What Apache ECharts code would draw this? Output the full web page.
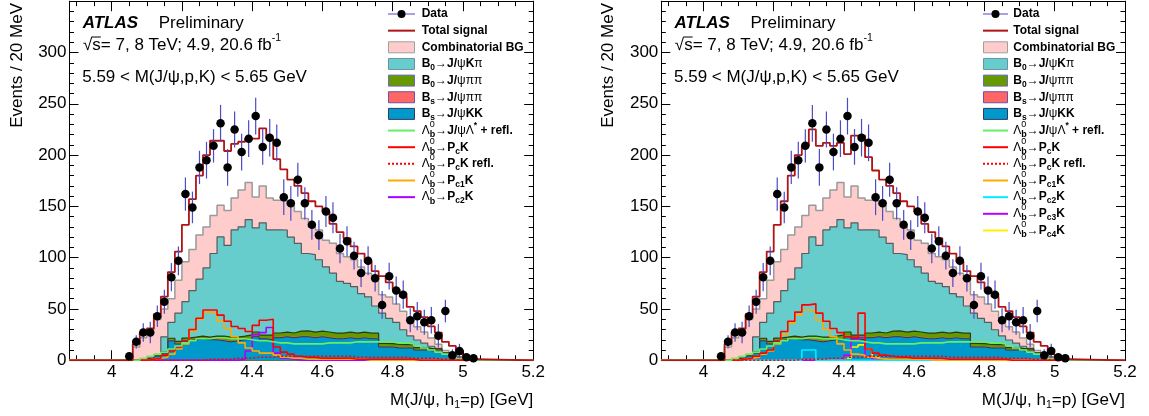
<!DOCTYPE html>
<html>
<head>
<meta charset="utf-8">
<title>M(J/ψ, p) fit projections</title>
<script src="https://cdn.jsdelivr.net/npm/echarts@6.0.0/dist/echarts.min.js"></script>
<style>
  html, body { margin: 0; padding: 0; background: #fff; }
  #chart { width: 1149px; height: 416px; }
</style>
</head>
<body>
<div id="chart"></div>
<script>
// ---- binning: 20 MeV bins starting at 4.04 GeV ----
const binLow = 4.04;
const binWidth = 0.02;

// ---- data ----
const dataCounts = [4,18,27,27,43,57,81,97,162,149, 188,195,209,231,188,225,203,216,238,208,
  217,212,159,153,176,153,132,122,145,139, 109,116,102,85,97,80,54,82,68,64,
  39,43,37,39,24,48,5,9,3,2];
const dataErrors = [3,6.5,9,10.5,10.5,11.7,13.8,14,16.2,15.4, 16.2,17.9,16.2,17.9,17.9,17.5,17.9,17.9,17.9,17.4,
  18.3,17.9,17.5,17,16.6,15.7,14.6,14.6,15.1,15.1, 14.3,14.6,13.5,13.5,14.1,13,13.5,13,13.6,13.8,
  11.7,13.8,12.2,13,11.4,10.9,5.7,7.1,3,2];

// ---- background components (stacked, bottom first) ----
const bsKK = [0,0,0,2,4,7,19,16,19,20, 21,20,20,19,18,19,20,20,23,21,
  20,22,23,22,23,23,22,23,22,21, 21,22,21,22,21,21,13,13,12,12,
  12,10,10,9,9,6,3,2,0,0];
const bsPiPi = [0,0,0,0,0.3,0.4,0.5,0.5,0.6,0.5, 0.6,0.5,0.6,0.7,0.5,0.6,0.6,0.7,0.6,0.5,
  0.6,0.6,0.5,0.6,0.5,0.6,0.5,0.5,0.6,0.5, 0.5,0.5,0.4,0.5,0.4,0.4,0.4,0.3,0.4,0.3,
  0.3,0.3,0.2,0.2,0.2,0.1,0.1,0,0,0];
const b0PiPi = [0,0,0,0,1,1,2,2,2,2, 2,2,3,4,4,3,3,4,4,3,
  4,4,4,4,5,5,5,5,5,5, 5,5,5,5,5,5,3,3,3,3,
  3,2,2,2,2,1,1,0,0,0];
const b0KPi = [0,0,0,0,0,14.5,15.5,27.5,35.5,45.5, 55.5,67.5,80.5,96.5,89.5,104.5,106.5,112.5,101.5,109.5,
  102.5,100.5,99.5,93.5,85.5,75.5,75.5,69.5,63.5,58.5, 50.5,47.5,45.5,37.5,35.5,26.5,29.5,24.5,21.5,14.5,
  8.5,7.5,4.5,2.5,0.5,0.5,0.5,1,0,0];
const combBG = [0,13,22,28,34.5,27,23,32,39,40, 43,40,37,31,34,31,36,36,30,36,
  31,29,28,31,31,34,27,29,26,29, 27,26,26,26,23,28,18,21,18,18,
  16,13,11,8,4,2,1,0,1,0];

// ---- signal components ----
const lambdaStar = [0,0,2,4,6,8,11,14,17,19, 21,21,22,22,21,21,21,20,19,19,
  18,17,17,16,16,16,16,16,17,17, 17,17,18,18,18,18,18,18,17,17,
  16,14,12,10,8,6,4,2,1,0];

// two-state model
const pcKTwo = [0,0,0,1,2,5,9,13,18,30, 41,49,49,44,38,33,31,28,34,39,
  40,13,8,6,4,3,3,2,2,2, 2,2,1,1,1,1,1,1,1,1, 1,0,0,0,0,0,0,0,0,0];
const pcKReflTwo = [0,0,0,0,0,0,0,0,0,0, 0,1,1,1,1,2,2,2,3,3,
  3,4,4,4,4,4,4,4,4,4, 4,4,3,3,3,3,3,3,3,3, 2,2,2,2,1,1,1,0,0,0];
const pc1KTwo = [0,0,0,1,2,3,6,11,16,28, 40,47,46,38,31,23,17,12,9,7,
  7,5,3,2,2,1,1,1,1,1, 1,1,1,1,0,0,0,0,0,0, 0,0,0,0,0,0,0,0,0,0];
const pc2KTwo = [0,0,0,0,0,0,0,0,0,0, 0,0,0,0,0,0,1,9,25,27,
  32,7,2,1,0,0,0,0,0,0, 0,0,0,0,0,0,0,0,0,0, 0,0,0,0,0,0,0,0,0,0];
const totalTwo = [0,16,27,31,45,62,86,106,132,157, 180,200,214,214,204,211,213,216,216,226,
  216,196,186,176,170,163,155,150,145,133, 125,119,111,104,96,87,82,76,69,62,
  52,48,42,33,27,18,14,6,2,1];

// four-state model
const pcKFour = [0,0,0,1,2,4,7,10,18,28, 38,47,54,55,46,38,31,27,23,22,
  46,11,7,5,4,3,3,2,2,2, 2,2,1,1,1,1,1,1,1,1, 1,0,0,0,0,0,0,0,0,0];
const pcKReflFour = [0,0,0,0,0,0,0,0,0,0, 0,1,1,1,1,2,2,2,3,3,
  3,4,4,4,4,4,4,4,4,4, 4,4,3,3,3,3,3,3,3,3, 2,2,2,2,1,1,1,0,0,0];
const pc1KFour = [0,0,0,1,2,3,6,9,16,25, 36,44,49,48,39,30,23,16,10,6,
  5,3,2,1,1,1,1,1,1,1, 0,0,0,0,0,0,0,0,0,0, 0,0,0,0,0,0,0,0,0,0];
const pc2KFour = [0,0,0,0,0,0,0,0,0,0, 0,0,10,10,0,0,0,0,0,0,
  0,0,0,0,0,0,0,0,0,0, 0,0,0,0,0,0,0,0,0,0, 0,0,0,0,0,0,0,0,0,0];
const pc3KFour = [0,0,0,0,0,0,0,0,0,0, 0,0,0,0,0,0,0,0,5,20,
  22,4,1,0,0,0,0,0,0,0, 0,0,0,0,0,0,0,0,0,0, 0,0,0,0,0,0,0,0,0,0];
const pc4KFour = [0,0,0,0,0,0,0,0,0,0, 0,0,0,0,0,0,0,0,2,13,
  15,11,3,1,0,0,0,0,0,0, 0,0,0,0,0,0,0,0,0,0, 0,0,0,0,0,0,0,0,0,0];
const totalFour = [0,16,27,31,45,62,86,106,132,155, 180,200,209,225,209,212,209,212,201,219,
  219,198,185,176,170,163,155,150,145,133, 125,119,111,104,96,87,82,76,69,62,
  52,48,42,33,27,18,14,6,2,1];

// ---- axes ----
const X_MIN = 3.88, X_MAX = 5.2, Y_MAX = 350;
const xTickLabels = [4, 4.2, 4.4, 4.6, 4.8, 5, 5.2];
const X_MINOR = 0.05, Y_MAJOR = 50;

const FAMILY = '"Liberation Sans", Arial, Helvetica, sans-serif';
const TEXT_SIZE = 17;
const TOTAL_COLOR = '#b01414';
const ERR_COLOR = '#4b4bc6';

const binEdges = dataCounts.map((_, j) => +(binLow + j * binWidth).toFixed(3));
const binCenters = dataCounts.map((_, j) => +(binLow + (j + 0.5) * binWidth).toFixed(3));
const xMinorTicks = [];
for (let k = 0; 3.9 + k * X_MINOR <= X_MAX + 1e-9; k++) xMinorTicks.push(+(3.9 + k * X_MINOR).toFixed(2));

function histPoints(vals) {
  const pts = [[X_MIN, 0]];
  vals.forEach((v, j) => pts.push([binEdges[j], v]));
  pts.push([+(binLow + vals.length * binWidth).toFixed(3), 0]);
  pts.push([X_MAX, 0]);
  return pts;
}
function sumOf(layers) {
  return layers[0].map((_, j) => layers.reduce((s, l) => s + l[j], 0));
}

const FILLS = {
  comb: { fill: '#ffcccc', stroke: '#9a9a9a', legendStroke: '#a0a0a0' },
  b0KPi: { fill: '#66cccc', stroke: '#5a5a5a', legendStroke: '#7090a8' },
  b0PiPi: { fill: '#669900', stroke: '#2c3a10', legendStroke: '#6a6abf' },
  bsPiPi: { fill: '#ff6666', stroke: '#7a3030', legendStroke: '#7050a8' },
  bsKK: { fill: '#0099cc', stroke: '#2a3a48', legendStroke: '#303a66' }
};

// legend text helpers
const B = t => ({ t, weight: 'bold' });
const N = t => ({ t, weight: 'normal' });
const SUB = t => ({ t, size: 8.5, weight: 'bold', dy: 4 });
const SUP = t => ({ t, size: 8.5, weight: 'bold', dy: -5 });
const LAMB = [N('Λ'), { t: '0', size: 9, weight: 'normal', dy: -6, stack: true }, { t: 'b', size: 9, weight: 'bold', dy: 4 }];

const panels = [
  {
    gridLeft: 69.5, iconX: 388, iconW: 27, textX: 421.7,
    total: totalTwo,
    signals: [
      { vals: lambdaStar, color: '#66ee66', parts: [...LAMB, N('→'), B('J/'), N('ψΛ'), SUP('*'), B(' + refl.')] },
      { vals: pcKTwo, color: '#ff0000', parts: [...LAMB, N('→'), B('P'), SUB('c'), B('K')] },
      { vals: pcKReflTwo, color: '#ff0000', dash: [2, 2], parts: [...LAMB, N('→'), B('P'), SUB('c'), B('K refl.')] },
      { vals: pc1KTwo, color: '#ffaa00', parts: [...LAMB, N('→'), B('P'), SUB('c1'), B('K')] },
      { vals: pc2KTwo, color: '#aa00ff', parts: [...LAMB, N('→'), B('P'), SUB('c2'), B('K')] }
    ]
  },
  {
    gridLeft: 661.3, iconX: 983, iconW: 25, textX: 1013.3,
    total: totalFour,
    signals: [
      { vals: lambdaStar, color: '#66ee66', parts: [...LAMB, N('→'), B('J/'), N('ψΛ'), SUP('*'), B(' + refl.')] },
      { vals: pcKFour, color: '#ff0000', parts: [...LAMB, N('→'), B('P'), SUB('c'), B('K')] },
      { vals: pcKReflFour, color: '#ff0000', dash: [2, 2], parts: [...LAMB, N('→'), B('P'), SUB('c'), B('K refl.')] },
      { vals: pc1KFour, color: '#ffaa00', parts: [...LAMB, N('→'), B('P'), SUB('c1'), B('K')] },
      { vals: pc2KFour, color: '#00eeff', parts: [...LAMB, N('→'), B('P'), SUB('c2'), B('K')] },
      { vals: pc3KFour, color: '#bb00ff', parts: [...LAMB, N('→'), B('P'), SUB('c3'), B('K')] },
      { vals: pc4KFour, color: '#ffee00', parts: [...LAMB, N('→'), B('P'), SUB('c4'), B('K')] }
    ]
  }
];

const GRID_TOP = 1.2, GRID_W = 463.7, GRID_H = 359.1;

// ---- text layout (measured runs with sub/superscripts) ----
const mctx = document.createElement('canvas').getContext('2d');
function fontOf(p) { return `${p.style || 'normal'} ${p.weight || 'normal'} ${p.size}px ${FAMILY}`; }
function layoutRun(parts, base) {
  let cx = 0, stackW = 0;
  const items = [];
  for (const raw of parts) {
    const p = Object.assign({}, base, raw);
    const font = fontOf(p);
    mctx.font = font;
    const w = mctx.measureText(p.t).width;
    items.push({ t: p.t, font, dx: cx, dy: p.dy || 0, w });
    if (p.stack) stackW = Math.max(stackW, w);
    else { cx += Math.max(w, stackW); stackW = 0; }
  }
  return { items, width: cx };
}
function placeRun(x, y, parts, base, align) {
  const r = layoutRun(parts, base);
  const x0 = align === 'right' ? x - r.width : x;
  return r.items.map(it => ({
    type: 'text', x: x0 + it.dx, y: y + it.dy, silent: true,
    style: { text: it.t, font: it.font, fill: '#000', align: 'left', verticalAlign: 'middle' }
  }));
}

const series = [], xAxes = [], yAxes = [], grids = [], graphics = [];

panels.forEach((pn, p) => {
  grids.push({ left: pn.gridLeft, top: GRID_TOP, width: GRID_W, height: GRID_H, containLabel: false, outerBoundsMode: 'none' });

  const axBase = { gridIndex: p, type: 'value', min: X_MIN, max: X_MAX, splitLine: { show: false } };
  const tickStyle = { color: '#000', width: 1 };
  xAxes.push(Object.assign({}, axBase, {
    position: 'bottom',
    axisLine: { show: true, onZero: false, lineStyle: { color: '#000', width: 1 } },
    axisTick: { show: true, inside: true, length: 10, customValues: xTickLabels, lineStyle: tickStyle },
    axisLabel: { show: true, customValues: xTickLabels, margin: 4, color: '#000', fontSize: TEXT_SIZE, fontFamily: FAMILY,
      formatter: v => String(+(+v).toFixed(2)) }
  }));
  xAxes.push(Object.assign({}, axBase, {
    position: 'bottom', axisLine: { show: false, onZero: false },
    axisTick: { show: true, inside: true, length: 5, customValues: xMinorTicks, lineStyle: tickStyle },
    axisLabel: { show: false }
  }));
  xAxes.push(Object.assign({}, axBase, {
    position: 'top', axisLine: { show: true, onZero: false, lineStyle: { color: '#000', width: 1 } },
    axisTick: { show: true, inside: true, length: 10, customValues: xTickLabels, lineStyle: tickStyle },
    axisLabel: { show: false }
  }));
  xAxes.push(Object.assign({}, axBase, {
    position: 'top', axisLine: { show: false, onZero: false },
    axisTick: { show: true, inside: true, length: 5, customValues: xMinorTicks, lineStyle: tickStyle },
    axisLabel: { show: false }
  }));
  const yBase = { gridIndex: p, type: 'value', min: 0, max: Y_MAX, interval: Y_MAJOR, splitLine: { show: false },
    minorSplitLine: { show: false } };
  yAxes.push(Object.assign({}, yBase, {
    position: 'left',
    axisLine: { show: true, onZero: false, lineStyle: { color: '#000', width: 1 } },
    axisTick: { show: true, inside: true, length: 9, lineStyle: tickStyle },
    minorTick: { show: true, splitNumber: 5, length: 4.5, lineStyle: tickStyle },
    axisLabel: { show: true, margin: 3, color: '#000', fontSize: TEXT_SIZE, fontFamily: FAMILY, showMaxLabel: false }
  }));
  yAxes.push(Object.assign({}, yBase, {
    position: 'right',
    axisLine: { show: true, onZero: false, lineStyle: { color: '#000', width: 1 } },
    axisTick: { show: true, inside: true, length: 9, lineStyle: tickStyle },
    minorTick: { show: true, splitNumber: 5, length: 4.5, lineStyle: tickStyle },
    axisLabel: { show: false }
  }));

  const xi = 4 * p, yi = 2 * p;
  const hist = (vals, o) => ({
    type: 'line', xAxisIndex: xi, yAxisIndex: yi, data: histPoints(vals), step: 'end',
    symbol: 'none', silent: true, clip: true, z: o.z || 2,
    lineStyle: { color: o.stroke, width: o.width || 1, type: o.dash || 'solid' },
    areaStyle: o.fill ? { color: o.fill, opacity: 1 } : null
  });

  // stacked backgrounds, drawn from the full stack down
  const stackRed = sumOf([bsKK, bsPiPi]);
  const stackGreen = sumOf([bsKK, bsPiPi, b0PiPi]);
  const stackTeal = sumOf([bsKK, bsPiPi, b0PiPi, b0KPi]);
  const stackPink = sumOf([bsKK, bsPiPi, b0PiPi, b0KPi, combBG]);
  series.push(hist(stackPink, { fill: FILLS.comb.fill, stroke: FILLS.comb.stroke, width: 1.5 }));
  series.push(hist(stackTeal, { fill: FILLS.b0KPi.fill, stroke: FILLS.b0KPi.stroke, width: 1.2 }));
  series.push(hist(stackGreen, { fill: FILLS.b0PiPi.fill, stroke: FILLS.b0PiPi.stroke, width: 1.2 }));
  series.push(hist(stackRed, { fill: FILLS.bsPiPi.fill, stroke: FILLS.bsPiPi.fill, width: 0.5 }));
  series.push(hist(bsKK, { fill: FILLS.bsKK.fill, stroke: FILLS.bsKK.stroke, width: 1 }));

  // signal shapes
  const order = pn.signals.slice().reverse();
  order.forEach(s => series.push(hist(s.vals, { stroke: s.color, width: 1.6, dash: s.dash, z: 3 })));
  series.push(hist(pn.total, { stroke: TOTAL_COLOR, width: 1.8, z: 4 }));

  // data with error bars
  series.push({
    type: 'custom', xAxisIndex: xi, yAxisIndex: yi, silent: true, z: 5,
    encode: { x: 0, y: 1 },
    data: binCenters.map((x, j) => [x, dataCounts[j], dataErrors[j]]),
    renderItem: (params, api) => {
      const x = api.value(0), y = api.value(1), e = api.value(2);
      const a = api.coord([x, y - e]), b = api.coord([x, y + e]);
      return { type: 'line', shape: { x1: a[0], y1: a[1], x2: b[0], y2: b[1] },
        style: { stroke: ERR_COLOR, lineWidth: 1.2 } };
    }
  });
  series.push({
    type: 'scatter', xAxisIndex: xi, yAxisIndex: yi, silent: true, z: 6,
    data: binCenters.map((x, j) => [x, dataCounts[j]]),
    symbol: 'circle', symbolSize: 8.5, itemStyle: { color: '#000', opacity: 1 }
  });

  // ---- texts ----
  const gx = pn.gridLeft;
  graphics.push(...placeRun(gx + 13.2, 23, [{ t: 'ATLAS', weight: 'bold', style: 'italic' }], { size: 17 }));
  graphics.push(...placeRun(gx + 89.2, 23, [N('Preliminary')], { size: 17 }));
  const eParts = [N('√'), N('s'), N('= 7, 8 TeV; 4.9, 20.6 fb'), { t: '-1', size: 10.5, dy: -6.5 }];
  const eRun = layoutRun(eParts, { size: TEXT_SIZE });
  graphics.push(...placeRun(gx + 13.5, 45, eParts, { size: TEXT_SIZE }));
  graphics.push({ type: 'line', silent: true,
    shape: { x1: gx + 13.5 + eRun.items[1].dx - 0.5, y1: 37, x2: gx + 13.5 + eRun.items[1].dx + eRun.items[1].w, y2: 37 },
    style: { stroke: '#000', lineWidth: 1 } });
  graphics.push(...placeRun(gx + 12.7, 77, [N('5.59 < M(J/ψ,p,K) < 5.65 GeV')], { size: TEXT_SIZE }));

  // axis titles
  graphics.push({ type: 'text', x: gx - 52.5, y: 3, rotation: Math.PI / 2, silent: true,
    style: { text: 'Events / 20 MeV', font: `normal normal ${TEXT_SIZE}px ${FAMILY}`, fill: '#000', align: 'right', verticalAlign: 'middle' } });
  graphics.push(...placeRun(gx + GRID_W, 400, [N('M(J/ψ, h'), { t: '1', size: 10.5, dy: 5 }, N('=p) [GeV]')], { size: TEXT_SIZE }, 'right'));

  // ---- legend ----
  const rows = [
    { icon: { kind: 'data' }, parts: [B('Data')] },
    { icon: { kind: 'line', color: TOTAL_COLOR }, parts: [B('Total signal')] },
    { icon: { kind: 'box', f: FILLS.comb }, parts: [B('Combinatorial BG')] },
    { icon: { kind: 'box', f: FILLS.b0KPi }, parts: [B('B'), SUB('0'), N('→'), B('J/'), N('ψ'), B('K'), N('π')] },
    { icon: { kind: 'box', f: FILLS.b0PiPi }, parts: [B('B'), SUB('0'), N('→'), B('J/'), N('ψππ')] },
    { icon: { kind: 'box', f: FILLS.bsPiPi }, parts: [B('B'), SUB('s'), N('→'), B('J/'), N('ψππ')] },
    { icon: { kind: 'box', f: FILLS.bsKK }, parts: [B('B'), SUB('s'), N('→'), B('J/'), N('ψ'), B('KK')] },
    ...pn.signals.map(s => ({ icon: { kind: 'line', color: s.color, dash: s.dash }, parts: s.parts }))
  ];
  rows.forEach((r, i) => {
    const y = 14 + 16.65 * i;
    const x0 = pn.iconX, w = pn.iconW;
    if (r.icon.kind === 'data') {
      graphics.push({ type: 'line', silent: true, shape: { x1: x0, y1: y, x2: x0 + w, y2: y }, style: { stroke: ERR_COLOR, lineWidth: 1 } });
      graphics.push({ type: 'circle', silent: true, shape: { cx: x0 + w / 2, cy: y, r: 4 }, style: { fill: '#000' } });
    } else if (r.icon.kind === 'line') {
      graphics.push({ type: 'line', silent: true, shape: { x1: x0, y1: y, x2: x0 + w, y2: y },
        style: { stroke: r.icon.color, lineWidth: 2, lineDash: r.icon.dash || null } });
    } else {
      graphics.push({ type: 'rect', silent: true, shape: { x: x0 + 0.5, y: y - 5.5, width: w - 1, height: 11 },
        style: { fill: r.icon.f.fill, stroke: r.icon.f.legendStroke, lineWidth: 1 } });
    }
    graphics.push(...placeRun(pn.textX, y, r.parts, { size: 12, weight: 'bold' }));
  });
});

const chart = echarts.init(document.getElementById('chart'), null, { renderer: 'canvas' });
chart.setOption({
  animation: false,
  backgroundColor: '#fff',
  grid: grids,
  xAxis: xAxes,
  yAxis: yAxes,
  series: series,
  graphic: { elements: graphics }
});
</script>
</body>
</html>
